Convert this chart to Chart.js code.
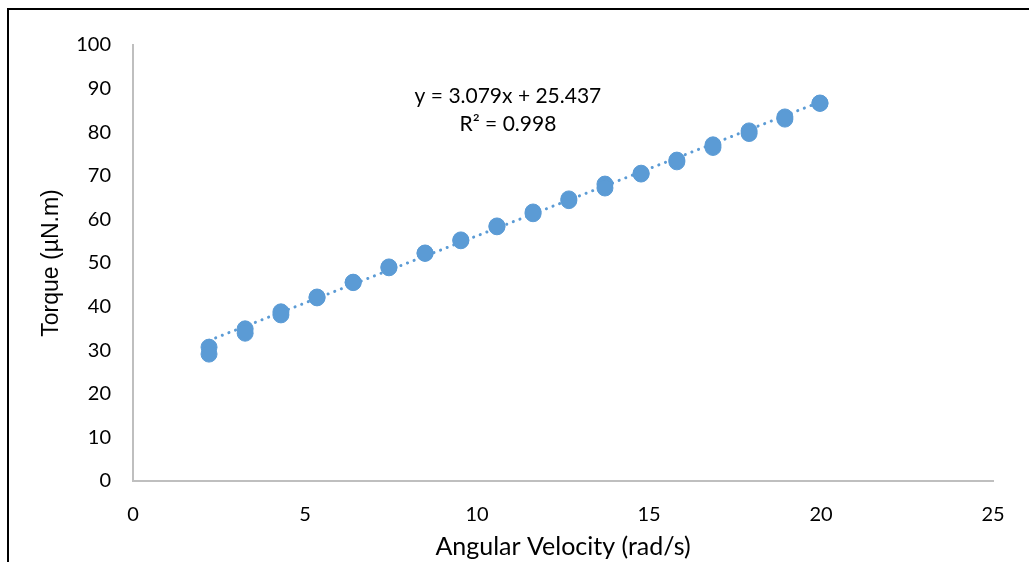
<!DOCTYPE html>
<html>
<head>
<meta charset="utf-8">
<script src="https://cdn.jsdelivr.net/npm/chart.js@4/dist/chart.umd.min.js"></script>
<style>
  body { margin: 0; background: #fff; }
  #wrap { position: relative; width: 1029px; height: 562px; overflow: hidden; }
  #frame { position: absolute; left: 7px; top: 8px; width: 1030px; height: 560px;
           border-left: 2px solid #000; border-top: 2px solid #000; pointer-events: none; }
</style>
</head>
<body>
<div id="wrap">
  <canvas id="chart" width="1029" height="562"></canvas>
  <div id="frame"></div>
</div>
<script>
// angular velocity (rad/s), two torque readings at each speed
const velocity = [2.21, 3.26, 4.30, 5.35, 6.40, 7.44, 8.49, 9.53, 10.58, 11.63, 12.67, 13.72, 14.77, 15.81, 16.86, 17.91, 18.95, 19.97];
const torqueA = [30.7, 34.9, 38.8, 42.2, 45.6, 49.1, 52.3, 55.3, 58.5, 61.7, 64.7, 68.1, 70.6, 73.6, 77.1, 80.3, 83.5, 86.7];
const torqueB = [29.1, 33.9, 38.1, 42.0, 45.5, 48.9, 52.2, 55.1, 58.3, 61.3, 64.3, 67.2, 70.4, 73.2, 76.5, 79.7, 83.0, 86.6];
const slope = 3.079, intercept = 25.437, r2 = 0.998;
const xTicks = [0, 5, 10, 15, 20, 25];
const yTicks = [0, 10, 20, 30, 40, 50, 60, 70, 80, 90, 100];

const points = [];
velocity.forEach((v, i) => {
  points.push({x: v, y: torqueA[i]});
  points.push({x: v, y: torqueB[i]});
});
const xFirst = velocity[0], xLast = velocity[velocity.length - 1];
const trend = [
  {x: xFirst, y: slope * xFirst + intercept},
  {x: xLast, y: slope * xLast + intercept}
];

const font = "Lato, 'Open Sans', sans-serif";
const blue = '#5b9bd5';

// trendline equation label
const eqLabel = {
  id: 'eqLabel',
  afterDatasetsDraw(chart) {
    const {ctx, scales} = chart;
    const cx = scales.x.getPixelForValue(10.9);
    ctx.save();
    ctx.fillStyle = '#000';
    ctx.font = '21px ' + font;
    ctx.textAlign = 'center';
    ctx.textBaseline = 'middle';
    ctx.fillText('y = ' + slope.toFixed(3) + 'x + ' + intercept.toFixed(3), cx, scales.y.getPixelForValue(88.2));
    ctx.fillText('R² = ' + r2.toFixed(3), cx, scales.y.getPixelForValue(81.8));
    ctx.restore();
  }
};

new Chart(document.getElementById('chart'), {
  type: 'scatter',
  data: {
    datasets: [
      {
        type: 'line',
        data: trend,
        borderColor: blue,
        borderWidth: 3,
        borderDash: [0.1, 7],
        borderCapStyle: 'round',
        pointRadius: 0,
        fill: false,
        order: 2
      },
      {
        data: points,
        backgroundColor: blue,
        borderColor: blue,
        pointRadius: 8,
        order: 1
      }
    ]
  },
  options: {
    responsive: false,
    animation: false,
    layout: { padding: { left: 38, top: 45, right: 36, bottom: 0 } },
    plugins: { legend: { display: false }, tooltip: { enabled: false } },
    scales: {
      x: {
        type: 'linear',
        min: 0, max: 25,
        afterBuildTicks: s => { s.ticks = xTicks.map(v => ({value: v})); },
        afterFit: s => { s.height = 81; },
        grid: { display: false, drawTicks: false },
        border: { color: '#bfbfbf', width: 2 },
        ticks: { color: '#000', padding: 22, font: { family: font, size: 20 } },
        title: { display: true, text: 'Angular Velocity (rad/s)', color: '#000',
                 padding: { top: 0, bottom: 0 }, font: { family: font, size: 25 } }
      },
      y: {
        type: 'linear',
        min: 0, max: 100,
        afterBuildTicks: s => { s.ticks = yTicks.map(v => ({value: v})); },
        afterFit: s => { s.width = 95; },
        grid: { display: false, drawTicks: false },
        border: { color: '#bfbfbf', width: 2 },
        ticks: { color: '#000', padding: 22, font: { family: font, size: 20 } },
        title: { display: true, text: 'Torque (µN.m)', color: '#000',
                 padding: { top: 0, bottom: 0 }, font: { family: "'Liberation Sans', Arial, sans-serif", size: 23 } }
      }
    }
  },
  plugins: [eqLabel]
});
</script>
</body>
</html>
